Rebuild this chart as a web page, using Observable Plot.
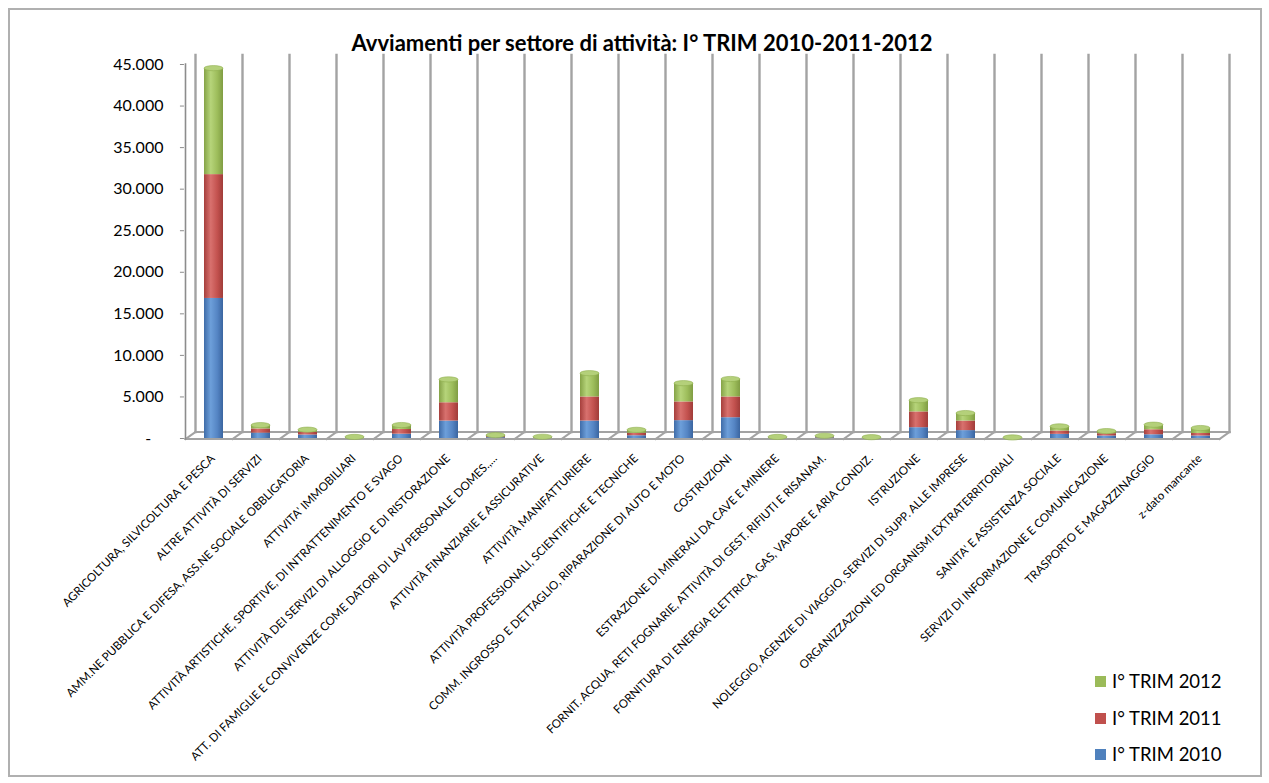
<!DOCTYPE html>
<html lang="it">
<head>
<meta charset="utf-8">
<script src="https://cdn.jsdelivr.net/npm/d3@7"></script>
<script src="https://cdn.jsdelivr.net/npm/@observablehq/plot@0.6"></script>
<style>
  html, body { margin: 0; padding: 0; background: #fff; }
  #chart { position: relative; width: 1269px; height: 783px; font-family: Lato, "Open Sans", sans-serif; overflow: hidden; }
  #frame { position: absolute; left: 8px; top: 8px; width: 1250px; height: 765px; border: 2px solid #b0b0b0; box-sizing: content-box; }
  #title { position: absolute; left: 0; top: 31px; width: 1284px; text-align: center; font-weight: 700; font-size: 22px; line-height: 24px; color: #000; }
  #plot { position: absolute; left: 0; top: 0; }
  .legend { position: absolute; left: 1095px; font-size: 18.5px; color: #000; line-height: 22px; white-space: nowrap; }
  .legend i { display: inline-block; width: 11px; height: 11px; margin-right: 6px; vertical-align: 1px; }
</style>
</head>
<body>
<div id="chart">
  <div id="frame"></div>
  <div id="plot"></div>
  <div id="title">Avviamenti per settore di attività: I° TRIM 2010-2011-2012</div>
</div>
<script>
// Settori di attività (ordine dell'asse orizzontale)
const categories = [
  "AGRICOLTURA, SILVICOLTURA E PESCA",
  "ALTRE ATTIVITÀ DI SERVIZI",
  "AMM.NE PUBBLICA E DIFESA, ASS.NE SOCIALE OBBLIGATORIA",
  "ATTIVITA' IMMOBILIARI",
  "ATTIVITÀ ARTISTICHE, SPORTIVE, DI INTRATTENIMENTO E SVAGO",
  "ATTIVITÀ DEI SERVIZI DI ALLOGGIO E DI RISTORAZIONE",
  "ATT. DI FAMIGLIE E CONVIVENZE COME DATORI DI LAV PERSONALE DOMES.,...",
  "ATTIVITÀ FINANZIARIE E ASSICURATIVE",
  "ATTIVITÀ MANIFATTURIERE",
  "ATTIVITÀ PROFESSIONALI, SCIENTIFICHE E TECNICHE",
  "COMM. INGROSSO E DETTAGLIO, RIPARAZIONE DI AUTO E MOTO",
  "COSTRUZIONI",
  "ESTRAZIONE DI MINERALI DA CAVE E MINIERE",
  "FORNIT. ACQUA, RETI FOGNARIE, ATTIVITÀ DI GEST. RIFIUTI E RISANAM.",
  "FORNITURA DI ENERGIA ELETTRICA, GAS, VAPORE E ARIA CONDIZ.",
  "ISTRUZIONE",
  "NOLEGGIO, AGENZIE DI VIAGGIO, SERVIZI DI SUPP. ALLE IMPRESE",
  "ORGANIZZAZIONI ED ORGANISMI EXTRATERRITORIALI",
  "SANITA' E ASSISTENZA SOCIALE",
  "SERVIZI DI INFORMAZIONE E COMUNICAZIONE",
  "TRASPORTO E MAGAZZINAGGIO",
  "z-dato mancante"
];

// Avviamenti per trimestre
const trim2010 = [16850, 650, 420, 40, 520, 2100, 100, 40, 2100, 330, 2150, 2500, 40, 80, 30, 1300, 950, 20, 500, 300, 450, 300];
const trim2011 = [14900, 500, 330, 40, 560, 2200, 120, 50, 2900, 300, 2250, 2500, 40, 100, 30, 1900, 1150, 20, 400, 280, 600, 300];
const trim2012 = [12750, 400, 250, 50, 480, 2750, 130, 60, 2800, 350, 2200, 2100, 50, 90, 40, 1350, 900, 30, 500, 250, 550, 600];

const seriesNames = ["I° TRIM 2010", "I° TRIM 2011", "I° TRIM 2012"];
const seriesColors = ["#4F81BD", "#C0504D", "#9BBB59"];
const yTicks = [0, 5000, 10000, 15000, 20000, 25000, 30000, 35000, 40000, 45000];

const rows = categories.flatMap((cat, i) => [
  {cat, series: seriesNames[0], value: trim2010[i]},
  {cat, series: seriesNames[1], value: trim2011[i]},
  {cat, series: seriesNames[2], value: trim2012[i]}
]);

const itLocale = d3.formatLocale({decimal: ",", thousands: ".", grouping: [3], currency: ["€", ""]});
const fmt = itLocale.format(",d");

// Sfumature orizzontali per l'effetto cilindro
const shades = {
  g2010: ["#3F6CA8", "#6D9FDA", "#5585C4", "#3A65A0"],
  g2011: ["#A63F3C", "#D8716E", "#C3524F", "#A03C39"],
  g2012: ["#85A347", "#B6D47A", "#9DBD5B", "#809D43"]
};

function gradients() {
  const g = d3.create("svg:g");
  const defs = g.append("defs");
  for (const [id, stops] of Object.entries(shades)) {
    const lg = defs.append("linearGradient").attr("id", id).attr("x1", 0).attr("x2", 1).attr("y1", 0).attr("y2", 0);
    [0, 0.35, 0.7, 1].forEach((o, k) => lg.append("stop").attr("offset", o).attr("stop-color", stops[k]));
  }
  return g.node();
}

// Pareti e pavimento prospettico dietro alle colonne
function walls(index, scales) {
  const {x, y} = scales;
  const bw = x.bandwidth();
  const step = x(categories[1]) - x(categories[0]);
  const b0 = x(categories[0]) + bw / 2 - step / 2;
  const bounds = d3.range(categories.length + 1).map(k => b0 + k * step);
  const y0 = y(0), yTop = y(yTicks[yTicks.length - 1]) - 9;
  const back = 5.5, front = -4.5, backY = y0 - 6, frontY = y0 + 1;
  const g = d3.create("svg:g").attr("fill", "none").attr("stroke-linecap", "square");
  for (const b of bounds) {
    g.append("line").attr("x1", b + back).attr("x2", b + back).attr("y1", yTop).attr("y2", backY)
      .attr("stroke", "#a3a3a3").attr("stroke-width", 2.4);
    g.append("line").attr("x1", b + front).attr("x2", b + back).attr("y1", frontY).attr("y2", backY)
      .attr("stroke", "#a3a3a3").attr("stroke-width", 2);
  }
  g.append("line").attr("x1", bounds[0] + back).attr("x2", bounds[bounds.length - 1] + back)
    .attr("y1", backY).attr("y2", backY).attr("stroke", "#a3a3a3").attr("stroke-width", 2);
  g.append("line").attr("x1", bounds[0] + front).attr("x2", bounds[bounds.length - 1] + front)
    .attr("y1", frontY).attr("y2", frontY).attr("stroke", "#a3a3a3").attr("stroke-width", 2);
  // asse verticale
  g.append("line").attr("x1", bounds[0] + front).attr("x2", bounds[0] + front)
    .attr("y1", y(yTicks[yTicks.length - 1])).attr("y2", frontY).attr("stroke", "#8c8c8c").attr("stroke-width", 1.6);
  return g.node();
}

// Coperchi ellittici in cima a ogni colonna
function caps(index, scales) {
  const {x, y} = scales;
  const bw = x.bandwidth();
  const g = d3.create("svg:g");
  categories.forEach((cat, i) => {
    const total = trim2010[i] + trim2011[i] + trim2012[i];
    g.append("ellipse")
      .attr("cx", x(cat) + bw / 2).attr("cy", y(total))
      .attr("rx", bw / 2).attr("ry", 2.6)
      .attr("fill", "#B4D07A").attr("stroke", "#8FAE4E").attr("stroke-width", 0.6);
  });
  return g.node();
}

const chart = Plot.plot({
  width: 1269,
  height: 783,
  marginTop: 64,
  marginBottom: 345,
  marginLeft: 188.45,
  marginRight: 44.35,
  style: {fontFamily: "Lato, 'Open Sans', sans-serif", background: "transparent", overflow: "visible"},
  x: {type: "band", domain: categories, paddingInner: 0.6, paddingOuter: 0.3, axis: null},
  y: {domain: [0, 45000], axis: null},
  color: {domain: seriesNames, range: ["url(#g2010)", "url(#g2011)", "url(#g2012)"]},
  marks: [
    gradients,
    walls,
    Plot.axisY({
      ticks: yTicks,
      tickFormat: d => d === 0 ? "-\u00a0\u00a0\u00a0" : fmt(d),
      tickSize: 4,
      tickPadding: 17,
      dx: -4.5,
      fontSize: 16,
      label: null,
      stroke: "#8c8c8c",
      fill: "#000"
    }),
    Plot.barY(rows, {x: "cat", y: "value", fill: "series"}),
    caps,
    Plot.text(categories, {
      x: d => d,
      y: 0,
      text: d => d,
      rotate: -45,
      textAnchor: "end",
      dx: -1,
      dy: 18,
      fontSize: 11.6,
      fill: "#000"
    })
  ]
});

document.getElementById("plot").appendChild(chart);

// Legenda (ordine inverso, come nella pila)
const chartDiv = document.getElementById("chart");
const legendTops = [670, 706.5, 743];
[2, 1, 0].forEach((s, k) => {
  const item = document.createElement("div");
  item.className = "legend";
  item.style.top = legendTops[k] + "px";
  item.innerHTML = `<i style="background:${seriesColors[s]}"></i>${seriesNames[s]}`;
  chartDiv.appendChild(item);
});
</script>
</body>
</html>
